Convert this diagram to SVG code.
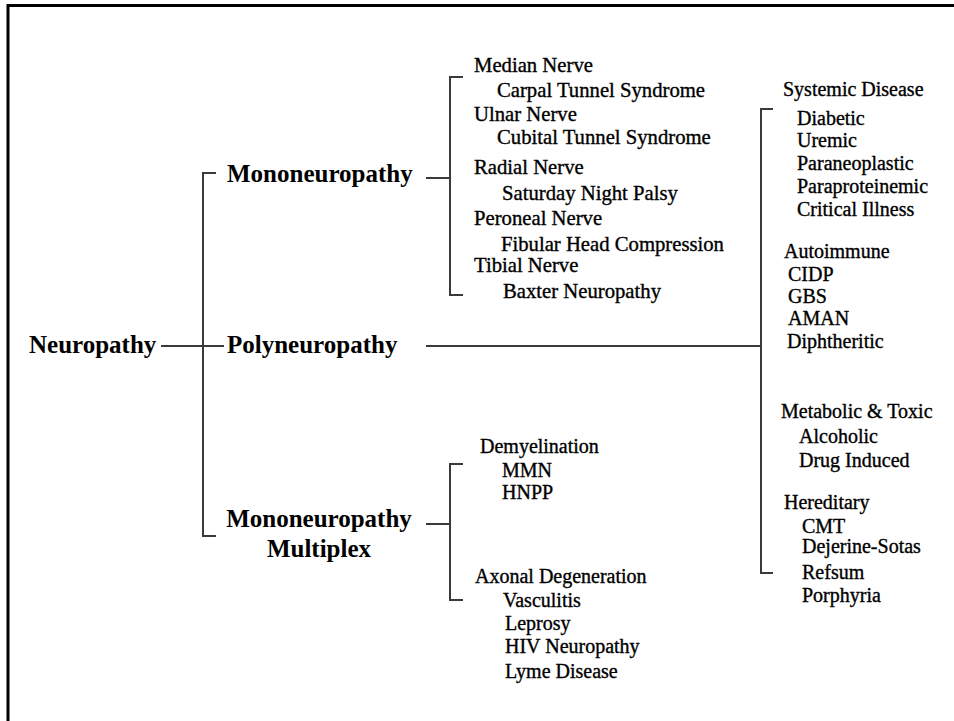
<svg xmlns="http://www.w3.org/2000/svg" width="954" height="721" viewBox="0 0 954 721">
  <style>
    .frame { fill: none; stroke: #000; stroke-width: 3; }
    .wire { fill: none; stroke: #3a3a3a; stroke-width: 2; }
    .head { font-family: "Liberation Serif", "Times New Roman", serif; font-weight: bold; font-size: 25px; fill: #000; }
    .item { font-family: "Liberation Serif", "Times New Roman", serif; font-size: 20px; fill: #000; stroke: #000; stroke-width: 0.35; }
    .wide { font-size: 20.7px; }
  </style>
  <rect width="954" height="721" fill="#fff"/>
  <!-- open frame: top and left edges only -->
  <path class="frame" d="M8 721 V5.5 H954"/>

  <g id="connectors">
    <path class="wire" d="M161 346 H224"/>
    <path class="wire" d="M216 173 H203 V536 H216"/>
    <path class="wire" d="M426 178 H450"/>
    <path class="wire" d="M463 77 H450 V295 H463"/>
    <path class="wire" d="M426 346 H761"/>
    <path class="wire" d="M773 109 H761 V573 H773"/>
    <path class="wire" d="M426 524 H450"/>
    <path class="wire" d="M463 464 H450 V600 H463"/>
  </g>

  <g id="neuropathy">
    <text class="head" x="29" y="353">Neuropathy</text>
  </g>
  <g id="mononeuropathy">
    <text class="head" x="227" y="182">Mononeuropathy</text>
  </g>
  <g id="polyneuropathy">
    <text class="head" x="227" y="353">Polyneuropathy</text>
  </g>
  <g id="mononeuropathy-multiplex">
    <text class="head" x="319" y="527" text-anchor="middle">Mononeuropathy</text>
    <text class="head" x="319" y="557" text-anchor="middle">Multiplex</text>
  </g>

  <g id="mono-sites">
    <text class="item wide" x="474" y="72">Median Nerve</text>
    <text class="item wide" x="497" y="97">Carpal Tunnel Syndrome</text>
    <text class="item wide" x="474" y="121">Ulnar Nerve</text>
    <text class="item wide" x="497" y="144">Cubital Tunnel Syndrome</text>
    <text class="item wide" x="474" y="174">Radial Nerve</text>
    <text class="item wide" x="502" y="200">Saturday Night Palsy</text>
    <text class="item wide" x="474" y="225">Peroneal Nerve</text>
    <text class="item wide" x="501" y="251">Fibular Head Compression</text>
    <text class="item wide" x="474" y="272">Tibial Nerve</text>
    <text class="item wide" x="503" y="298">Baxter Neuropathy</text>
  </g>

  <g id="poly-causes">
    <text class="item" x="783" y="96">Systemic Disease</text>
    <text class="item" x="797" y="125">Diabetic</text>
    <text class="item" x="797" y="147">Uremic</text>
    <text class="item" x="797" y="170">Paraneoplastic</text>
    <text class="item" x="797" y="193">Paraproteinemic</text>
    <text class="item" x="797" y="216">Critical Illness</text>
    <text class="item" x="784" y="258">Autoimmune</text>
    <text class="item" x="788" y="281">CIDP</text>
    <text class="item" x="788" y="303">GBS</text>
    <text class="item" x="788" y="325">AMAN</text>
    <text class="item" x="787" y="348">Diphtheritic</text>
    <text class="item" x="781" y="418">Metabolic &amp; Toxic</text>
    <text class="item" x="799" y="443">Alcoholic</text>
    <text class="item" x="799" y="467">Drug Induced</text>
    <text class="item" x="784" y="509">Hereditary</text>
    <text class="item" x="802" y="533">CMT</text>
    <text class="item" x="802" y="553">Dejerine-Sotas</text>
    <text class="item" x="802" y="579">Refsum</text>
    <text class="item" x="802" y="602">Porphyria</text>
  </g>

  <g id="multiplex-causes">
    <text class="item" x="480" y="453">Demyelination</text>
    <text class="item" x="502" y="477">MMN</text>
    <text class="item" x="502" y="499">HNPP</text>
    <text class="item" x="475" y="583">Axonal Degeneration</text>
    <text class="item" x="503" y="607">Vasculitis</text>
    <text class="item" x="505" y="630">Leprosy</text>
    <text class="item" x="505" y="653">HIV Neuropathy</text>
    <text class="item" x="505" y="678">Lyme Disease</text>
  </g>
</svg>
